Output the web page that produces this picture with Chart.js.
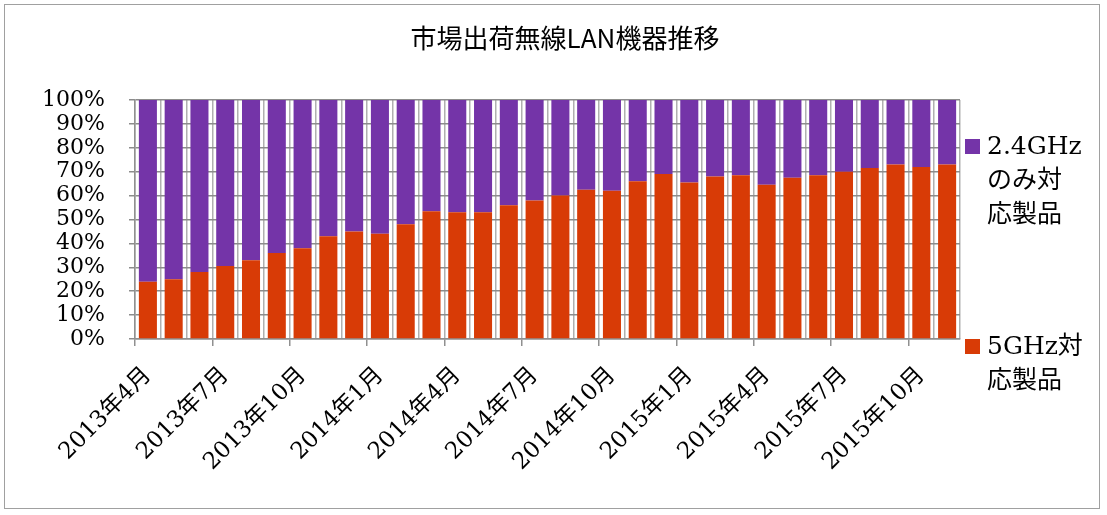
<!DOCTYPE html>
<html>
<head>
<meta charset="utf-8">
<script src="https://cdn.jsdelivr.net/npm/chart.js@4.4.0/dist/chart.umd.min.js"></script>
<style>
  html, body { margin: 0; padding: 0; background: #fff; }
  #wrap { position: relative; width: 1107px; height: 515px; }
  #frame { position: absolute; left: 4px; top: 4px; width: 1096px; height: 505px; border: 1px solid #a0a0a0; box-sizing: border-box; }
  canvas { position: absolute; left: 0; top: 0; }
  #title { position: absolute; left: 0; width: 1130px; top: 20px; text-align: center; font-family: "Noto Sans CJK JP", sans-serif; font-size: 26px; line-height: 34px; color: #000; }
  .leg { position: absolute; font-family: "DejaVu Serif", "Noto Sans CJK JP", serif; font-size: 25px; line-height: 34px; color: #000; }
  .leg .box { position: absolute; left: -22px; top: 10px; width: 15px; height: 15px; }
</style>
</head>
<body>
<div id="wrap">
  <div id="frame"></div>
  <canvas id="c" width="1107" height="515"></canvas>
  <div id="title">市場出荷無線LAN機器推移</div>
  <div class="leg" style="left:987px; top:129px;"><span class="box" style="background:#7434a8"></span>2.4GHz<br>のみ対<br>応製品</div>
  <div class="leg" style="left:987px; top:329px;"><span class="box" style="background:#d83b06"></span>5GHz対<br>応製品</div>
</div>
<script>
// 月ラベル (2013年4月〜2015年11月)
const months = [
  '2013年4月','2013年5月','2013年6月','2013年7月','2013年8月','2013年9月',
  '2013年10月','2013年11月','2013年12月','2014年1月','2014年2月','2014年3月',
  '2014年4月','2014年5月','2014年6月','2014年7月','2014年8月','2014年9月',
  '2014年10月','2014年11月','2014年12月','2015年1月','2015年2月','2015年3月',
  '2015年4月','2015年5月','2015年6月','2015年7月','2015年8月','2015年9月',
  '2015年10月','2015年11月'
];

// 5GHz対応製品の比率 (%)
const share5GHz = [
  24, 25, 28, 30.5, 33, 36, 38, 43, 45, 44, 48,
  53.5, 53, 53, 56, 58, 60, 62.5, 62, 66, 69,
  65.5, 68, 68.5, 64.5, 67.5, 68.5, 70, 71.5, 73, 72, 73
];

// 2.4GHzのみ対応製品 = 残り
const share24GHz = share5GHz.map(v => 100 - v);

const serif = '"DejaVu Serif", "Noto Sans CJK JP", serif';

new Chart(document.getElementById('c'), {
  type: 'bar',
  data: {
    labels: months,
    datasets: [{
      label: '5GHz対応製品',
      data: share5GHz,
      backgroundColor: '#d83b06',
      borderWidth: 0,
      barPercentage: 0.7,
      categoryPercentage: 1.0
    }, {
      label: '2.4GHzのみ対応製品',
      data: share24GHz,
      backgroundColor: '#7434a8',
      borderWidth: 0,
      barPercentage: 0.7,
      categoryPercentage: 1.0
    }]
  },
  options: {
    responsive: false,
    animation: false,
    layout: { padding: { left: 0, right: 147, top: 100, bottom: 0 } },
    plugins: {
      legend: { display: false },
      tooltip: { enabled: false },
      title: { display: false }
    },
    scales: {
      x: {
        stacked: true,
        afterFit: s => { s.height = 176; },
        grid: {
          offset: true,
          color: '#b0b0b0',
          lineWidth: 1.5,
          tickLength: 7,
          tickColor: ctx => (ctx.index % 3 === 0 ? '#909090' : 'rgba(0,0,0,0)')
        },
        border: { color: '#909090', width: 1.5 },
        ticks: {
          autoSkip: false,
          maxRotation: 45,
          minRotation: 45,
          padding: 16,
          color: '#000',
          font: { family: serif, size: 23 },
          callback: function(value, index) {
            return index % 3 === 0 ? months[index] : '';
          }
        }
      },
      y: {
        stacked: true,
        min: 0,
        max: 100,
        afterFit: s => { s.width = 135; },
        grid: { color: '#8c8c8c', lineWidth: 1.5, tickLength: 6 },
        border: { color: '#909090', width: 1.5 },
        ticks: {
          autoSkip: false,
          stepSize: 10,
          color: '#000',
          font: { family: serif, size: 22, lineHeight: 1 },
          padding: 24,
          callback: v => v + '%'
        }
      }
    }
  }
});
</script>
</body>
</html>
